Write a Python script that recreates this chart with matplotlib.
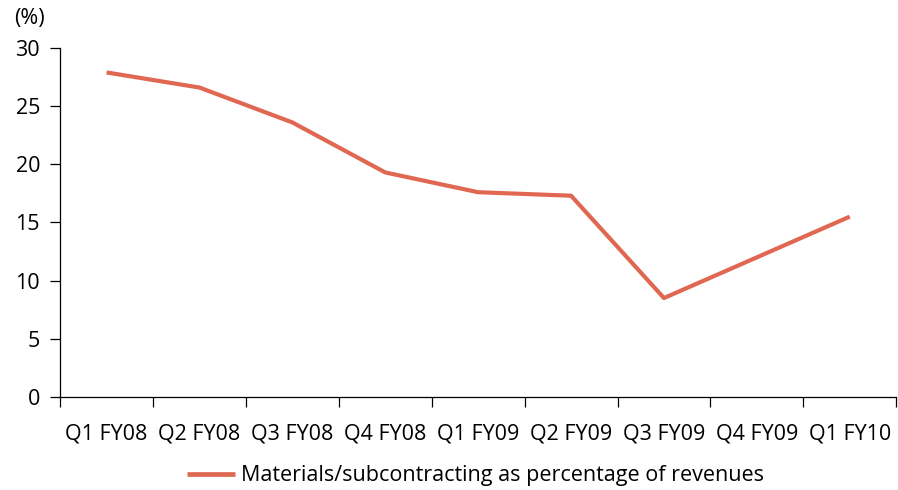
import numpy as np
import matplotlib.pyplot as plt

plt.rcParams['font.family'] = ['Open Sans', 'DejaVu Sans']

quarters = ['Q1 FY08', 'Q2 FY08', 'Q3 FY08', 'Q4 FY08', 'Q1 FY09',
            'Q2 FY09', 'Q3 FY09', 'Q4 FY09', 'Q1 FY10']
materials_pct = [27.9, 26.6, 23.6, 19.3, 17.6, 17.3, 8.5, 12.0, 15.5]

LINE_COLOR = '#E06852'
FS = 15.5

fig = plt.figure(figsize=(8.98, 4.90), dpi=100)
ax = fig.add_axes([0.067, 0.19, 0.931, 0.712])

x = np.arange(len(quarters)) + 0.5
ax.plot(x, materials_pct, color=LINE_COLOR, lw=3.0, solid_capstyle='butt',
        label='Materials/subcontracting as percentage of revenues')

ax.set_xlim(0, len(quarters))
ax.set_ylim(0, 30)
ax.set_yticks(np.arange(0, 31, 5))

# category boundaries carry the tick marks, labels sit between them
ax.set_xticks(np.arange(len(quarters) + 1))
ax.set_xticklabels([])
ax.set_xticks(x, minor=True)
ax.set_xticklabels(quarters, minor=True)
ax.tick_params(axis='x', which='minor', length=0, pad=19, labelsize=FS)
ax.tick_params(axis='x', which='major', length=7, width=0.9, direction='out')
ax.tick_params(axis='y', length=7, width=0.9, direction='out', pad=7.5, labelsize=FS)

for side in ('top', 'right'):
    ax.spines[side].set_visible(False)
for side in ('left', 'bottom'):
    ax.spines[side].set_linewidth(0.9)

fig.text(0.016, 0.962, '(%)', fontsize=FS, va='center', ha='left')

leg = ax.legend(loc='upper center', bbox_to_anchor=(0.497, -0.14), frameon=False,
                fontsize=FS, handlelength=2.2, handletextpad=0.3)
for h in leg.get_lines():
    h.set_linewidth(3.4)

fig.savefig('out.png', dpi=100)
